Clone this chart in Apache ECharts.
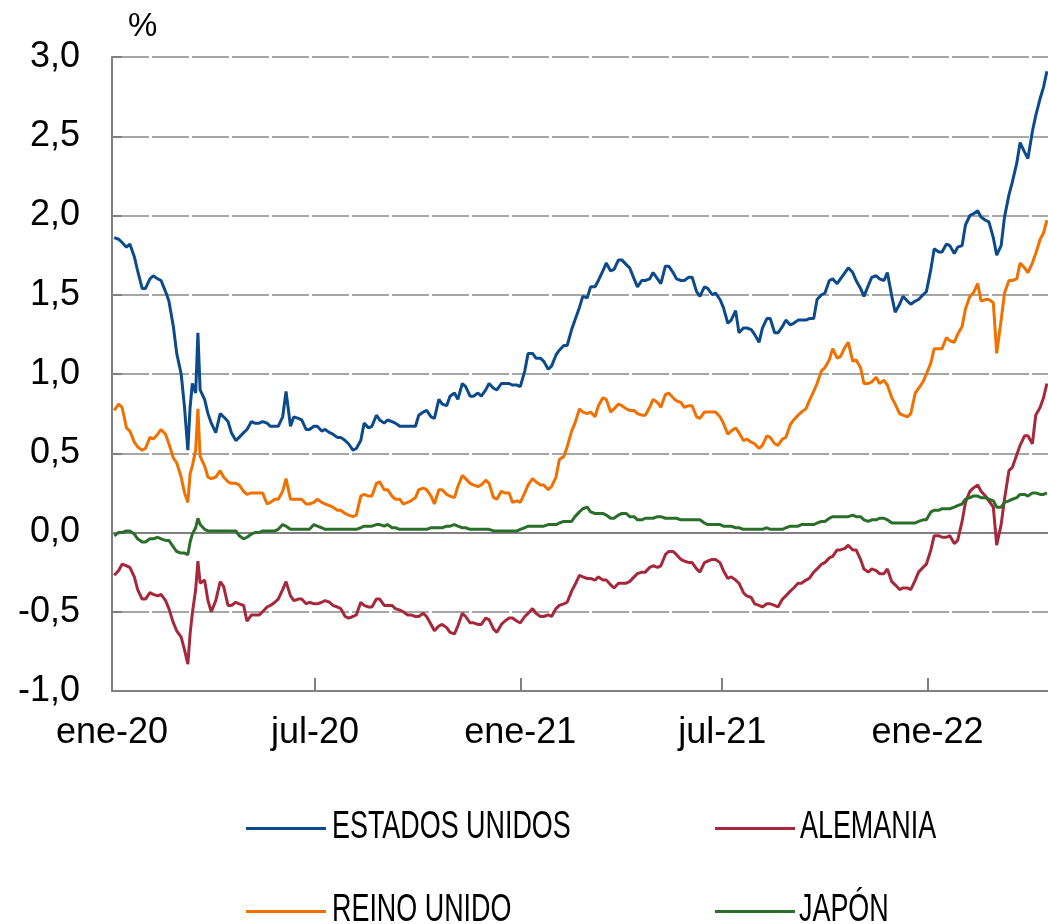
<!DOCTYPE html>
<html>
<head>
<meta charset="utf-8">
<script src="https://cdn.jsdelivr.net/npm/echarts@6/dist/echarts.min.js"></script>
<style>
html,body{margin:0;padding:0;background:#fff;}
#chart{width:1048px;height:924px;}
</style>
</head>
<body>
<div id="chart"></div>
<script>
// Days since 1 Jan 2020 for each observation (roughly twice a week)
const days = [2,6,9,13,16,20,23,27,30,34,37,41,44,48,51,55,
58,62,65,68,70,72,75,77,79,83,86,89,
93,97,100,104,107,111,114,118,121,125,128,132,135,139,142,146,149,153,156,160,163,167,170,174,177,181,184,188,191,195,198,202,205,209,212,216,219,223,226,230,233,237,240,244,247,251,254,258,261,265,268,272,275,279,
282,286,289,293,296,300,303,307,310,314,317,321,324,328,331,335,338,342,345,349,352,356,359,363,366,370,373,377,380,384,387,391,394,398,401,405,408,412,415,419,422,426,429,433,436,440,443,447,450,454,457,461,464,468,471,475,478,482,485,489,492,496,499,503,506,510,513,517,520,524,527,531,534,538,541,545,548,552,
555,559,562,566,569,573,576,580,583,587,590,594,597,601,604,608,611,615,618,622,625,629,632,636,639,643,646,650,653,657,660,664,667,671,674,678,681,685,688,692,695,699,702,706,709,713,716,720,723,727,730,734,737,741,744,748,751,755,758,762,765,769,772,776,779,783,786,790,793,797,800,804,807,811,814,818,821,825,828,832,835,838];

const usValues = [1.86,1.85,1.83,1.80,1.82,1.74,1.65,1.54,1.54,1.60,1.62,1.60,1.59,1.52,1.46,1.30,
1.13,1.00,0.79,0.52,0.79,0.94,0.88,1.26,0.90,0.84,0.75,0.69,
0.63,0.75,0.73,0.70,0.63,0.58,0.60,0.63,0.65,0.70,0.69,0.69,0.70,0.69,0.67,0.67,0.67,0.73,0.89,0.67,0.73,0.72,0.71,0.65,0.65,0.67,0.67,0.64,0.65,0.63,0.62,0.60,0.60,0.58,0.56,0.52,0.53,0.58,0.69,0.66,0.67,0.74,0.71,0.69,0.71,0.70,0.69,0.67,0.67,0.67,0.67,0.67,0.74,0.76,
0.77,0.73,0.72,0.84,0.81,0.80,0.86,0.88,0.84,0.94,0.92,0.86,0.86,0.88,0.86,0.90,0.94,0.91,0.90,0.94,0.94,0.94,0.93,0.93,0.92,1.02,1.13,1.13,1.10,1.10,1.08,1.03,1.05,1.12,1.15,1.18,1.18,1.28,1.34,1.42,1.49,1.48,1.55,1.55,1.59,1.65,1.70,1.65,1.66,1.72,1.72,1.69,1.67,1.60,1.55,1.59,1.59,1.60,1.64,1.60,1.57,1.68,1.68,1.64,1.60,1.59,1.59,1.61,1.61,1.52,1.49,1.55,1.54,1.50,1.51,1.47,1.42,1.32,
1.34,1.40,1.26,1.29,1.29,1.28,1.25,1.20,1.29,1.35,1.35,1.26,1.26,1.30,1.34,1.31,1.32,1.34,1.34,1.34,1.35,1.35,1.47,1.50,1.51,1.59,1.60,1.57,1.60,1.64,1.67,1.64,1.59,1.54,1.49,1.56,1.61,1.62,1.60,1.59,1.64,1.49,1.39,1.44,1.49,1.46,1.44,1.46,1.47,1.50,1.52,1.66,1.79,1.77,1.77,1.82,1.81,1.76,1.80,1.81,1.94,2.00,2.01,2.03,1.99,1.97,1.96,1.86,1.75,1.81,1.99,2.13,2.21,2.33,2.46,2.40,2.36,2.53,2.63,2.74,2.81,2.91];

const ukValues = [0.77,0.81,0.79,0.66,0.64,0.57,0.54,0.52,0.53,0.60,0.59,0.62,0.65,0.62,0.56,0.47,
0.44,0.35,0.25,0.19,0.37,0.42,0.52,0.78,0.48,0.42,0.35,0.34,
0.35,0.39,0.35,0.32,0.31,0.31,0.30,0.26,0.24,0.25,0.25,0.25,0.25,0.18,0.19,0.21,0.21,0.26,0.34,0.21,0.21,0.21,0.21,0.18,0.18,0.19,0.21,0.19,0.18,0.17,0.16,0.14,0.14,0.12,0.11,0.10,0.11,0.23,0.24,0.23,0.23,0.31,0.32,0.27,0.27,0.23,0.21,0.21,0.18,0.19,0.20,0.22,0.27,0.28,
0.27,0.23,0.18,0.27,0.27,0.24,0.23,0.22,0.29,0.36,0.34,0.31,0.30,0.29,0.30,0.33,0.31,0.22,0.21,0.26,0.25,0.25,0.19,0.20,0.19,0.25,0.30,0.34,0.32,0.30,0.30,0.27,0.29,0.35,0.46,0.48,0.54,0.64,0.69,0.78,0.76,0.75,0.76,0.73,0.80,0.85,0.84,0.76,0.78,0.81,0.80,0.78,0.77,0.77,0.75,0.74,0.74,0.79,0.84,0.82,0.79,0.87,0.88,0.85,0.83,0.82,0.79,0.80,0.80,0.73,0.72,0.76,0.76,0.76,0.76,0.73,0.69,0.62,
0.64,0.66,0.63,0.58,0.59,0.57,0.56,0.53,0.55,0.61,0.60,0.56,0.55,0.59,0.60,0.68,0.71,0.74,0.76,0.78,0.83,0.89,0.94,1.02,1.04,1.09,1.16,1.10,1.11,1.17,1.20,1.08,1.09,1.04,0.94,0.94,0.95,0.98,0.94,0.96,0.93,0.85,0.81,0.75,0.74,0.73,0.75,0.88,0.91,0.95,1.00,1.07,1.16,1.16,1.16,1.23,1.21,1.20,1.25,1.30,1.41,1.49,1.51,1.57,1.46,1.47,1.47,1.45,1.13,1.34,1.51,1.59,1.59,1.60,1.70,1.67,1.64,1.70,1.76,1.85,1.89,1.97];

const deValues = [-0.27,-0.24,-0.20,-0.21,-0.22,-0.28,-0.36,-0.42,-0.42,-0.38,-0.39,-0.40,-0.39,-0.43,-0.48,-0.57,
-0.62,-0.66,-0.74,-0.83,-0.64,-0.51,-0.36,-0.18,-0.32,-0.30,-0.43,-0.50,
-0.43,-0.31,-0.34,-0.46,-0.46,-0.44,-0.45,-0.46,-0.56,-0.52,-0.52,-0.52,-0.50,-0.47,-0.46,-0.44,-0.42,-0.36,-0.31,-0.40,-0.43,-0.42,-0.42,-0.45,-0.44,-0.45,-0.45,-0.44,-0.43,-0.44,-0.46,-0.47,-0.48,-0.53,-0.54,-0.53,-0.52,-0.44,-0.46,-0.47,-0.47,-0.42,-0.42,-0.46,-0.46,-0.46,-0.48,-0.49,-0.50,-0.52,-0.52,-0.53,-0.53,-0.51,
-0.53,-0.58,-0.62,-0.59,-0.58,-0.60,-0.63,-0.64,-0.59,-0.51,-0.53,-0.57,-0.57,-0.58,-0.58,-0.54,-0.55,-0.61,-0.63,-0.58,-0.56,-0.54,-0.54,-0.56,-0.57,-0.53,-0.51,-0.48,-0.51,-0.53,-0.53,-0.52,-0.53,-0.48,-0.46,-0.45,-0.44,-0.37,-0.33,-0.27,-0.28,-0.29,-0.29,-0.30,-0.28,-0.30,-0.30,-0.33,-0.35,-0.32,-0.32,-0.32,-0.31,-0.28,-0.26,-0.25,-0.25,-0.22,-0.21,-0.22,-0.21,-0.14,-0.12,-0.12,-0.14,-0.17,-0.18,-0.19,-0.19,-0.23,-0.25,-0.19,-0.18,-0.17,-0.17,-0.19,-0.24,-0.29,
-0.28,-0.30,-0.32,-0.38,-0.40,-0.41,-0.45,-0.46,-0.47,-0.45,-0.45,-0.46,-0.47,-0.42,-0.40,-0.37,-0.35,-0.32,-0.32,-0.30,-0.29,-0.25,-0.23,-0.20,-0.19,-0.16,-0.15,-0.11,-0.11,-0.10,-0.08,-0.11,-0.11,-0.17,-0.23,-0.25,-0.23,-0.24,-0.26,-0.26,-0.23,-0.31,-0.33,-0.36,-0.35,-0.35,-0.36,-0.30,-0.25,-0.22,-0.20,-0.11,-0.02,-0.02,-0.03,-0.03,-0.02,-0.07,-0.05,0.07,0.19,0.26,0.28,0.30,0.26,0.23,0.20,0.16,-0.08,0.05,0.21,0.39,0.41,0.49,0.55,0.61,0.61,0.56,0.74,0.79,0.85,0.94];

const jpValues = [-0.02,0.00,0.00,0.01,0.01,-0.01,-0.04,-0.06,-0.06,-0.04,-0.04,-0.03,-0.04,-0.05,-0.05,-0.09,
-0.12,-0.13,-0.13,-0.14,-0.06,-0.01,0.03,0.09,0.05,0.02,0.01,0.01,
0.01,0.01,0.01,0.01,0.01,0.01,-0.02,-0.04,-0.03,-0.01,0.00,0.00,0.01,0.01,0.01,0.01,0.02,0.05,0.04,0.02,0.02,0.02,0.02,0.02,0.02,0.05,0.04,0.03,0.02,0.02,0.02,0.02,0.02,0.02,0.02,0.02,0.02,0.03,0.04,0.04,0.04,0.05,0.05,0.04,0.05,0.03,0.03,0.02,0.02,0.02,0.02,0.02,0.02,0.02,
0.02,0.03,0.03,0.03,0.03,0.04,0.04,0.05,0.04,0.03,0.03,0.02,0.02,0.02,0.02,0.02,0.02,0.01,0.01,0.01,0.01,0.01,0.01,0.01,0.02,0.03,0.04,0.04,0.04,0.04,0.04,0.05,0.05,0.05,0.06,0.07,0.07,0.07,0.10,0.13,0.15,0.16,0.13,0.12,0.12,0.12,0.11,0.09,0.09,0.11,0.12,0.12,0.10,0.10,0.08,0.08,0.09,0.09,0.09,0.10,0.10,0.09,0.09,0.09,0.09,0.08,0.08,0.08,0.08,0.08,0.08,0.06,0.05,0.05,0.05,0.05,0.04,0.04,
0.04,0.03,0.03,0.02,0.02,0.02,0.02,0.02,0.02,0.03,0.02,0.02,0.02,0.02,0.03,0.04,0.04,0.04,0.05,0.05,0.05,0.05,0.06,0.07,0.07,0.09,0.10,0.10,0.10,0.10,0.10,0.11,0.10,0.10,0.08,0.07,0.08,0.08,0.09,0.09,0.08,0.06,0.06,0.06,0.06,0.06,0.06,0.06,0.07,0.08,0.08,0.13,0.14,0.14,0.15,0.15,0.15,0.16,0.17,0.18,0.21,0.22,0.23,0.23,0.22,0.22,0.21,0.20,0.16,0.16,0.19,0.20,0.21,0.22,0.24,0.24,0.23,0.25,0.25,0.24,0.24,0.25];

const seriesNames = ['ESTADOS UNIDOS', 'ALEMANIA', 'REINO UNIDO', 'JAPÓN'];
const seriesColors = ['#0b4a8b', '#a5283c', '#f07000', '#2a6e2a'];
const tickDays = [0, 182, 366, 547, 731];
const tickLabels = ['ene-20', 'jul-20', 'ene-21', 'jul-21', 'ene-22'];
const xMaxDay = 839;

const valuesList = [usValues, deValues, ukValues, jpValues];
valuesList.forEach((v, i) => {
  if (v.length !== days.length) {
    throw new Error('Length mismatch for ' + seriesNames[i] + ': ' + v.length + ' vs ' + days.length);
  }
});

const baseFont = '"Liberation Sans", Arial, sans-serif';
const chart = echarts.init(document.getElementById('chart'), null, {renderer: 'canvas'});

const series = seriesNames.map((name, i) => {
  const s = {
    name: name,
    type: 'line',
    data: days.map((d, j) => [d, valuesList[i][j]]),
    showSymbol: false,
    symbol: 'none',
    smooth: false,
    lineStyle: {color: seriesColors[i], width: 3},
    itemStyle: {color: seriesColors[i]},
    z: 3
  };
  if (i === 0) {
    s.markLine = {
      silent: true,
      symbol: 'none',
      label: {show: false},
      lineStyle: {color: '#808080', width: 2, type: 'solid'},
      data: [{yAxis: 0}],
      z: 2
    };
  }
  return s;
});

// legend layout: one legend box per entry (2 x 2 grid)
const legendSlots = [
  {name: 'ESTADOS UNIDOS', left: 246, top: 827, textX: 332, textY: 827},
  {name: 'REINO UNIDO',    left: 246, top: 910, textX: 332, textY: 910},
  {name: 'ALEMANIA',       left: 715, top: 827, textX: 800, textY: 827},
  {name: 'JAPÓN',          left: 715, top: 910, textX: 799, textY: 910}
];

const legends = legendSlots.map(s => ({
  left: s.left,
  top: s.top,
  padding: 0,
  icon: 'rect',
  itemWidth: 80,
  itemHeight: 3,
  selectedMode: false,
  data: [s.name],
  formatter: function () { return ''; },
  textStyle: {fontSize: 2, lineHeight: 3}
}));

const legendTexts = legendSlots.map(s => ({
  type: 'text',
  x: s.textX,
  y: s.textY,
  scaleX: 0.69,
  silent: true,
  style: {
    text: s.name,
    fontFamily: baseFont,
    fontSize: 39,
    fill: '#000',
    align: 'left',
    verticalAlign: 'middle'
  }
}));

chart.setOption({
  animation: false,
  backgroundColor: '#fff',
  grid: {left: 112, right: 0, top: 57, bottom: 233},
  legend: legends,
  graphic: legendTexts,
  xAxis: {
    type: 'value',
    min: 0,
    max: xMaxDay,
    axisLine: {show: true, onZero: false, lineStyle: {color: '#808080', width: 2}},
    axisTick: {show: true, inside: true, length: 13, customValues: tickDays, lineStyle: {color: '#808080', width: 2}},
    axisLabel: {
      customValues: tickDays,
      margin: 24,
      fontFamily: baseFont,
      fontSize: 36,
      color: '#000',
      formatter: function (v) {
        const idx = tickDays.indexOf(Math.round(v));
        return idx >= 0 ? tickLabels[idx] : '';
      }
    },
    splitLine: {show: false}
  },
  yAxis: {
    type: 'value',
    min: -1,
    max: 3,
    interval: 0.5,
    name: '%',
    nameLocation: 'end',
    nameGap: 14,
    nameTextStyle: {fontFamily: baseFont, fontSize: 33, color: '#000', align: 'left', padding: [0, 0, 0, 16]},
    axisLine: {show: true, onZero: false, lineStyle: {color: '#808080', width: 2}},
    axisTick: {show: true, inside: true, length: 10, lineStyle: {color: '#808080', width: 2}},
    axisLabel: {
      margin: 32,
      fontFamily: baseFont,
      fontSize: 36,
      color: '#000',
      formatter: function (v) { return v.toFixed(1).replace('.', ','); }
    },
    splitLine: {show: true, lineStyle: {color: '#a6a6a6', width: 2, type: [37, 3]}}
  },
  series: series
});
</script>
</body>
</html>
